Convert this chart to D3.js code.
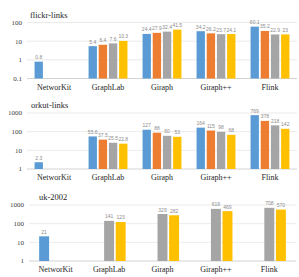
<!DOCTYPE html>
<html>
<head>
<meta charset="utf-8">
<script src="https://cdn.jsdelivr.net/npm/d3@7"></script>
<style>
  body { margin: 0; background: #fff; }
  svg { display: block; }
  svg text { font-family: "Liberation Serif", "Times New Roman", serif; }
  svg text.val { font-family: "Liberation Sans", Arial, sans-serif; }
</style>
</head>
<body>
<div id="chart"></div>
<script>
// categories and series
const systems = ["NetworKit", "GraphLab", "Giraph", "Giraph++", "Flink"];
const colors4 = ["#5B9BD5", "#ED7D31", "#A5A5A5", "#FFC000"];
const colors3 = ["#5B9BD5", "#A5A5A5", "#FFC000"];

// flickr-links, one array per series (null = no bar)
const flickrS1 = [0.8, 5.4, 24.4, 34.2, 60.1];
const flickrS2 = [null, 6.4, 27.9, 26.2, 35.2];
const flickrS3 = [null, 7.6, 32.4, 23.7, 22.9];
const flickrS4 = [null, 10.3, 41.5, 24.1, 23];

// orkut-links
const orkutS1 = [2.3, 55.6, 127, 164, 769];
const orkutS2 = [null, 37.5, 88, 115, 378];
const orkutS3 = [null, 25.5, 60, 98, 218];
const orkutS4 = [null, 22.8, 53, 68, 142];

// uk-2002
const ukS1 = [21, null, null, null, null];
const ukS2 = [null, 141, 329, 619, 708];
const ukS3 = [null, 123, 282, 469, 570];

const ticksFlickr = [0.1, 1, 10, 100];
const ticksBig = [1, 10, 100, 1000];

const panels = [
  {title: "flickr-links", series: [flickrS1, flickrS2, flickrS3, flickrS4], colors: colors4,
   ticks: ticksFlickr, yTop: 22.5, yBot: 78.5, left: 27, right: 297, titleX: 30, titleY: 18,
   catY: 90, pad: 0.28, innerPad: 0.18},
  {title: "orkut-links", series: [orkutS1, orkutS2, orkutS3, orkutS4], colors: colors4,
   ticks: ticksBig, yTop: 113, yBot: 169, left: 27, right: 297, titleX: 31, titleY: 108,
   catY: 180, pad: 0.28, innerPad: 0.18},
  {title: "uk-2002", series: [ukS1, ukS2, ukS3], colors: colors3,
   ticks: ticksBig, yTop: 205, yBot: 261, left: 29, right: 296, titleX: 39, titleY: 200,
   catY: 272, pad: 0.38, innerPad: 0.14}
];

const svg = d3.select("#chart").append("svg")
  .attr("width", 299).attr("height", 277);

panels.forEach(p => {
  const g = svg.append("g");
  const ticks = p.ticks;

  const y = d3.scaleLog()
    .domain([ticks[0], ticks[ticks.length - 1]])
    .range([p.yBot, p.yTop]);

  const x = d3.scaleBand()
    .domain(systems)
    .range([p.left, p.right])
    .paddingInner(p.pad)
    .paddingOuter(p.pad / 2);

  const xs = d3.scaleBand()
    .domain(d3.range(p.series.length))
    .range([0, x.bandwidth()])
    .paddingInner(p.innerPad);

  // gridlines
  g.selectAll(".grid").data(ticks).join("line")
    .attr("x1", p.left).attr("x2", p.right)
    .attr("y1", d => y(d)).attr("y2", d => y(d))
    .attr("stroke", d => d === ticks[0] ? "#c8c8c8" : "#e6e6e6")
    .attr("stroke-width", 0.8);

  // y tick labels
  g.selectAll(".tick").data(ticks).join("text")
    .attr("x", p.left - 5)
    .attr("y", d => y(d))
    .attr("dy", "0.35em")
    .attr("text-anchor", "end")
    .attr("font-size", 7)
    .attr("fill", "#404040")
    .text(d => d);

  // bars
  const bars = [];
  p.series.forEach((s, i) => {
    s.forEach((v, j) => {
      if (v != null) bars.push({cat: systems[j], si: i, v: v});
    });
  });

  g.selectAll(".bar").data(bars).join("rect")
    .attr("x", d => x(d.cat) + xs(d.si))
    .attr("width", xs.bandwidth())
    .attr("y", d => y(d.v))
    .attr("height", d => p.yBot - y(d.v))
    .attr("fill", d => p.colors[d.si]);

  g.selectAll(".val").data(bars).join("text")
    .attr("class", "val")
    .attr("x", d => x(d.cat) + xs(d.si) + xs.bandwidth() / 2)
    .attr("y", d => y(d.v) - 2.5)
    .attr("text-anchor", "middle")
    .attr("font-size", 5)
    .attr("fill", "#8c8c8c")
    .text(d => d.v);

  // category labels
  g.selectAll(".cat").data(systems).join("text")
    .attr("x", d => x(d) + x.bandwidth() / 2)
    .attr("y", p.catY)
    .attr("text-anchor", "middle")
    .attr("font-size", 8)
    .attr("fill", "#262626")
    .text(d => d);

  // title
  g.append("text")
    .attr("x", p.titleX).attr("y", p.titleY)
    .attr("font-size", 8.5)
    .attr("fill", "#262626")
    .text(p.title);
});
</script>
</body>
</html>
